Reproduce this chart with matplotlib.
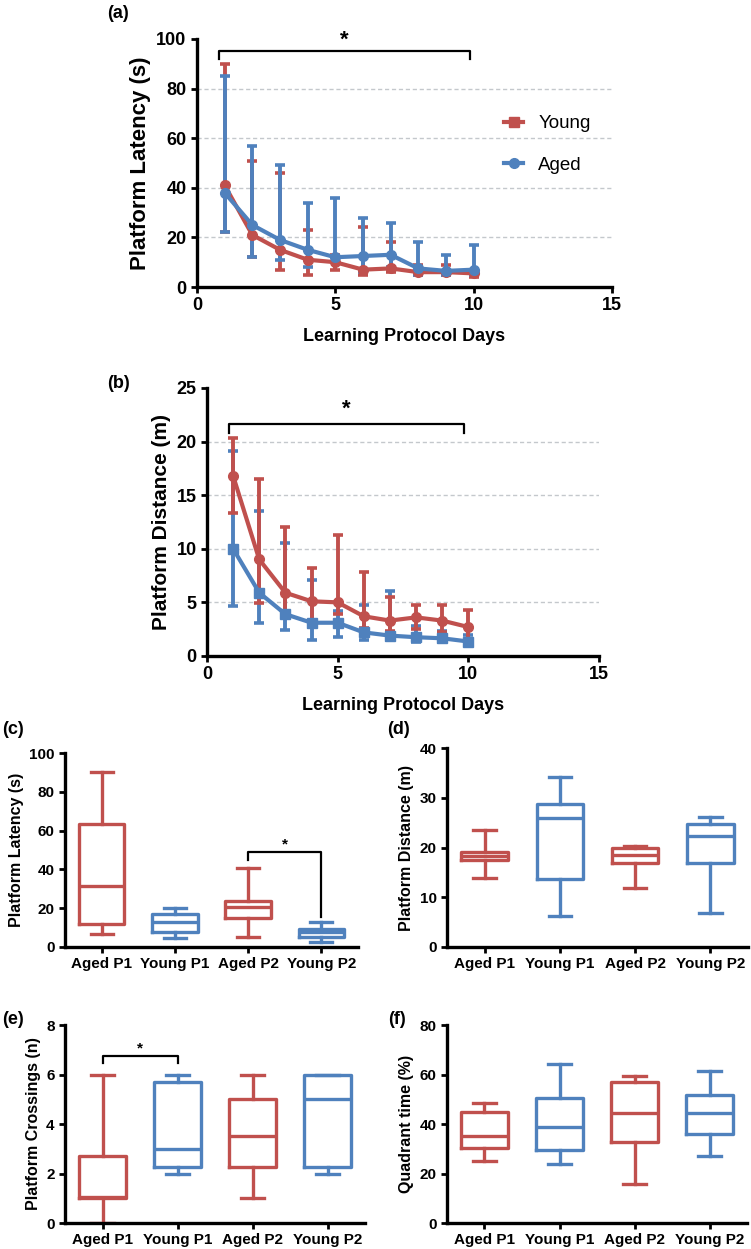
import matplotlib.pyplot as plt
from matplotlib.lines import Line2D

plt.rcParams['font.family'] = ['Liberation Sans', 'DejaVu Sans']
plt.rcParams['font.weight'] = 'bold'
plt.rcParams['axes.labelweight'] = 'bold'

RED = '#c0504d'
BLUE = '#4f81bd'

days = [1, 2, 3, 4, 5, 6, 7, 8, 9, 10]

# (a) platform latency, mean with error bar ends
young_lat = [41, 21, 15, 11, 10, 7, 7.5, 6, 6, 5.5]
young_lat_hi = [90, 51, 46, 23, 13, 24, 18, 9, 9, 7]
young_lat_lo = [22, 12, 7, 5, 7, 5, 6, 5, 5, 4]
aged_lat = [38, 25, 19, 15, 12, 12.5, 13, 7.5, 6.5, 7]
aged_lat_hi = [85, 57, 49, 34, 36, 28, 26, 18, 13, 17]
aged_lat_lo = [22, 12, 11, 8, 10, 6, 8, 5, 5, 5]

# (b) platform distance
young_dist = [16.8, 9.0, 5.9, 5.1, 5.0, 3.7, 3.3, 3.6, 3.3, 2.7]
young_dist_hi = [20.3, 16.5, 12.0, 8.2, 11.3, 7.8, 5.5, 4.8, 4.8, 4.3]
young_dist_lo = [13.3, 4.9, 3.8, 2.7, 3.9, 2.6, 2.3, 2.5, 2.2, 1.5]
aged_dist = [10.0, 5.9, 3.9, 3.1, 3.1, 2.2, 1.9, 1.75, 1.65, 1.35]
aged_dist_hi = [19.1, 13.5, 10.5, 7.1, 4.2, 4.8, 6.1, 2.8, 2.3, 2.0]
aged_dist_lo = [4.7, 3.1, 2.4, 1.5, 1.8, 1.5, 1.5, 1.3, 1.3, 1.1]

groups = ['Aged P1', 'Young P1', 'Aged P2', 'Young P2']
group_colors = [RED, BLUE, RED, BLUE]

# box stats: whisker low, q1, median, q3, whisker high
c_lo = [6.5, 4.6, 5.3, 2.7]
c_q1 = [12, 7.7, 15, 5.3]
c_med = [31.4, 13, 20.6, 7.7]
c_q3 = [63.5, 17, 23.7, 9.3]
c_hi = [90, 20, 40.7, 13]

d_lo = [13.9, 6.2, 11.9, 6.8]
d_q1 = [17.5, 13.7, 16.9, 16.9]
d_med = [18.3, 25.9, 18.5, 22.3]
d_q3 = [19.1, 28.7, 19.9, 24.7]
d_hi = [23.5, 34.2, 20.3, 26.1]

e_lo = [0, 2, 1, 2]
e_q1 = [1.0, 2.27, 2.27, 2.27]
e_med = [1.05, 3.0, 3.5, 5.0]
e_q3 = [2.71, 5.7, 5.0, 6.0]
e_hi = [6, 6, 6, 6]

f_lo = [25.1, 24.0, 15.9, 27.1]
f_q1 = [30.5, 29.7, 32.8, 35.8]
f_med = [35.2, 38.9, 44.3, 44.5]
f_q3 = [44.7, 50.6, 56.8, 51.7]
f_hi = [48.3, 64.2, 59.4, 61.4]


def style_axes(ax, lw=2.4):
    for s in ['top', 'right']:
        ax.spines[s].set_visible(False)
    for s in ['left', 'bottom']:
        ax.spines[s].set_linewidth(lw)
    ax.tick_params(direction='out', length=4, width=2)


def line_panel(ax, series, ymax, ystep, ylabel, grid_vals):
    for g in grid_vals:
        ax.plot([0, 15], [g, g], color='#c4c8cc', lw=1, ls=(0, (3, 2)), zorder=0)
    for mean, lo, hi, col, mk, lab in series:
        err = [[m - l for m, l in zip(mean, lo)], [h - m for m, h in zip(mean, hi)]]
        ax.errorbar(days, mean, yerr=err, color=col, lw=3, elinewidth=2.8,
                    capsize=3.5, capthick=2.6, marker=mk, markersize=7, label=lab)
    ax.set_xlim(0, 15)
    ax.set_ylim(0, ymax)
    ax.set_xticks([0, 5, 10, 15])
    ax.set_yticks(range(0, ymax + 1, ystep))
    ax.tick_params(labelsize=13)
    ax.set_xlabel('Learning Protocol Days', fontsize=13, labelpad=10)
    ax.set_ylabel(ylabel, fontsize=16)
    style_axes(ax)


def bracket(ax, x0, x1, y, drop0, drop1, star_y, fs):
    ax.plot([x0, x0, x1, x1], [y - drop0, y, y, y - drop1], color='black', lw=1.6, clip_on=False)
    ax.text((x0 + x1) / 2, star_y, '*', ha='center', va='center', fontsize=fs)


def box_panel(ax, lo, q1, med, q3, hi, ymax, ystep, ylabel):
    stats = []
    for i in range(len(groups)):
        stats.append({'whislo': lo[i], 'q1': q1[i], 'med': med[i], 'q3': q3[i],
                      'whishi': hi[i], 'label': groups[i]})
    res = ax.bxp(stats, positions=range(len(groups)), widths=0.62, capwidths=0.3,
                 showfliers=False)
    for i, col in enumerate(group_colors):
        res['boxes'][i].set(color=col, lw=2.4)
        res['medians'][i].set(color=col, lw=2.4)
        for k in (2 * i, 2 * i + 1):
            res['whiskers'][k].set(color=col, lw=2.4)
            res['caps'][k].set(color=col, lw=2.4)
    ax.set_xlim(-0.5, 3.5)
    ax.set_ylim(0, ymax)
    ax.set_yticks(range(0, ymax + 1, ystep))
    ax.set_xticks(range(len(groups)))
    ax.set_xticklabels(groups)
    ax.tick_params(labelsize=11)
    ax.set_ylabel(ylabel, fontsize=11.5)
    style_axes(ax)


fig = plt.figure(figsize=(7.51, 12.49), dpi=100)

ax_a = fig.add_axes([0.2623, 0.7702, 0.5526, 0.1986])
line_panel(ax_a, [(young_lat, young_lat_lo, young_lat_hi, RED, 'o', 'Young'),
                  (aged_lat, aged_lat_lo, aged_lat_hi, BLUE, 'o', 'Aged')],
           100, 20, 'Platform Latency (s)', [20, 40, 60, 80])
bracket(ax_a, 0.8, 9.85, 95.3, 3.5, 3.5, 99.5, 16)
handles = [Line2D([], [], color=RED, lw=3, marker='s', markersize=7),
           Line2D([], [], color=BLUE, lw=3, marker='o', markersize=7)]
ax_a.legend(handles, ['Young', 'Aged'], loc='center left', bbox_to_anchor=(0.70, 0.575),
            frameon=False, handlelength=1.0, labelspacing=1.3,
            prop={'weight': 'normal', 'size': 13.5})

ax_b = fig.add_axes([0.2756, 0.4748, 0.522, 0.2146])
line_panel(ax_b, [(aged_dist, aged_dist_lo, aged_dist_hi, BLUE, 's', 'Aged'),
                  (young_dist, young_dist_lo, young_dist_hi, RED, 'o', 'Young')],
           25, 5, 'Platform Distance (m)', [5, 10, 15, 20])
ax_b.yaxis.label.set_size(15)
bracket(ax_b, 0.85, 9.85, 21.6, 0.8, 0.8, 23.0, 16)

ax_c = fig.add_axes([0.0866, 0.2418, 0.3901, 0.1553])
box_panel(ax_c, c_lo, c_q1, c_med, c_q3, c_hi, 100, 20, 'Platform Latency (s)')
bracket(ax_c, 2, 3, 49, 4, 33.5, 53, 11)

ax_d = fig.add_axes([0.5952, 0.2418, 0.4008, 0.1593])
box_panel(ax_d, d_lo, d_q1, d_med, d_q3, d_hi, 40, 10, 'Platform Distance (m)')

ax_e = fig.add_axes([0.0866, 0.0208, 0.3995, 0.1585])
box_panel(ax_e, e_lo, e_q1, e_med, e_q3, e_hi, 8, 2, 'Platform Crossings (n)')
bracket(ax_e, 0, 1, 6.76, 0.3, 0.3, 7.05, 11)

ax_f = fig.add_axes([0.5952, 0.0208, 0.3995, 0.1585])
box_panel(ax_f, f_lo, f_q1, f_med, f_q3, f_hi, 80, 20, 'Quadrant time (%)')

for lab, x, y in [('(a)', 118, 13), ('(b)', 118, 383), ('(c)', 13, 730),
                  ('(d)', 398, 730), ('(e)', 13, 1020), ('(f)', 397, 1020)]:
    fig.text(x / 751, 1 - y / 1249, lab, fontsize=13, fontweight='bold',
             ha='center', va='center')

plt.savefig('out.png', dpi=100)
